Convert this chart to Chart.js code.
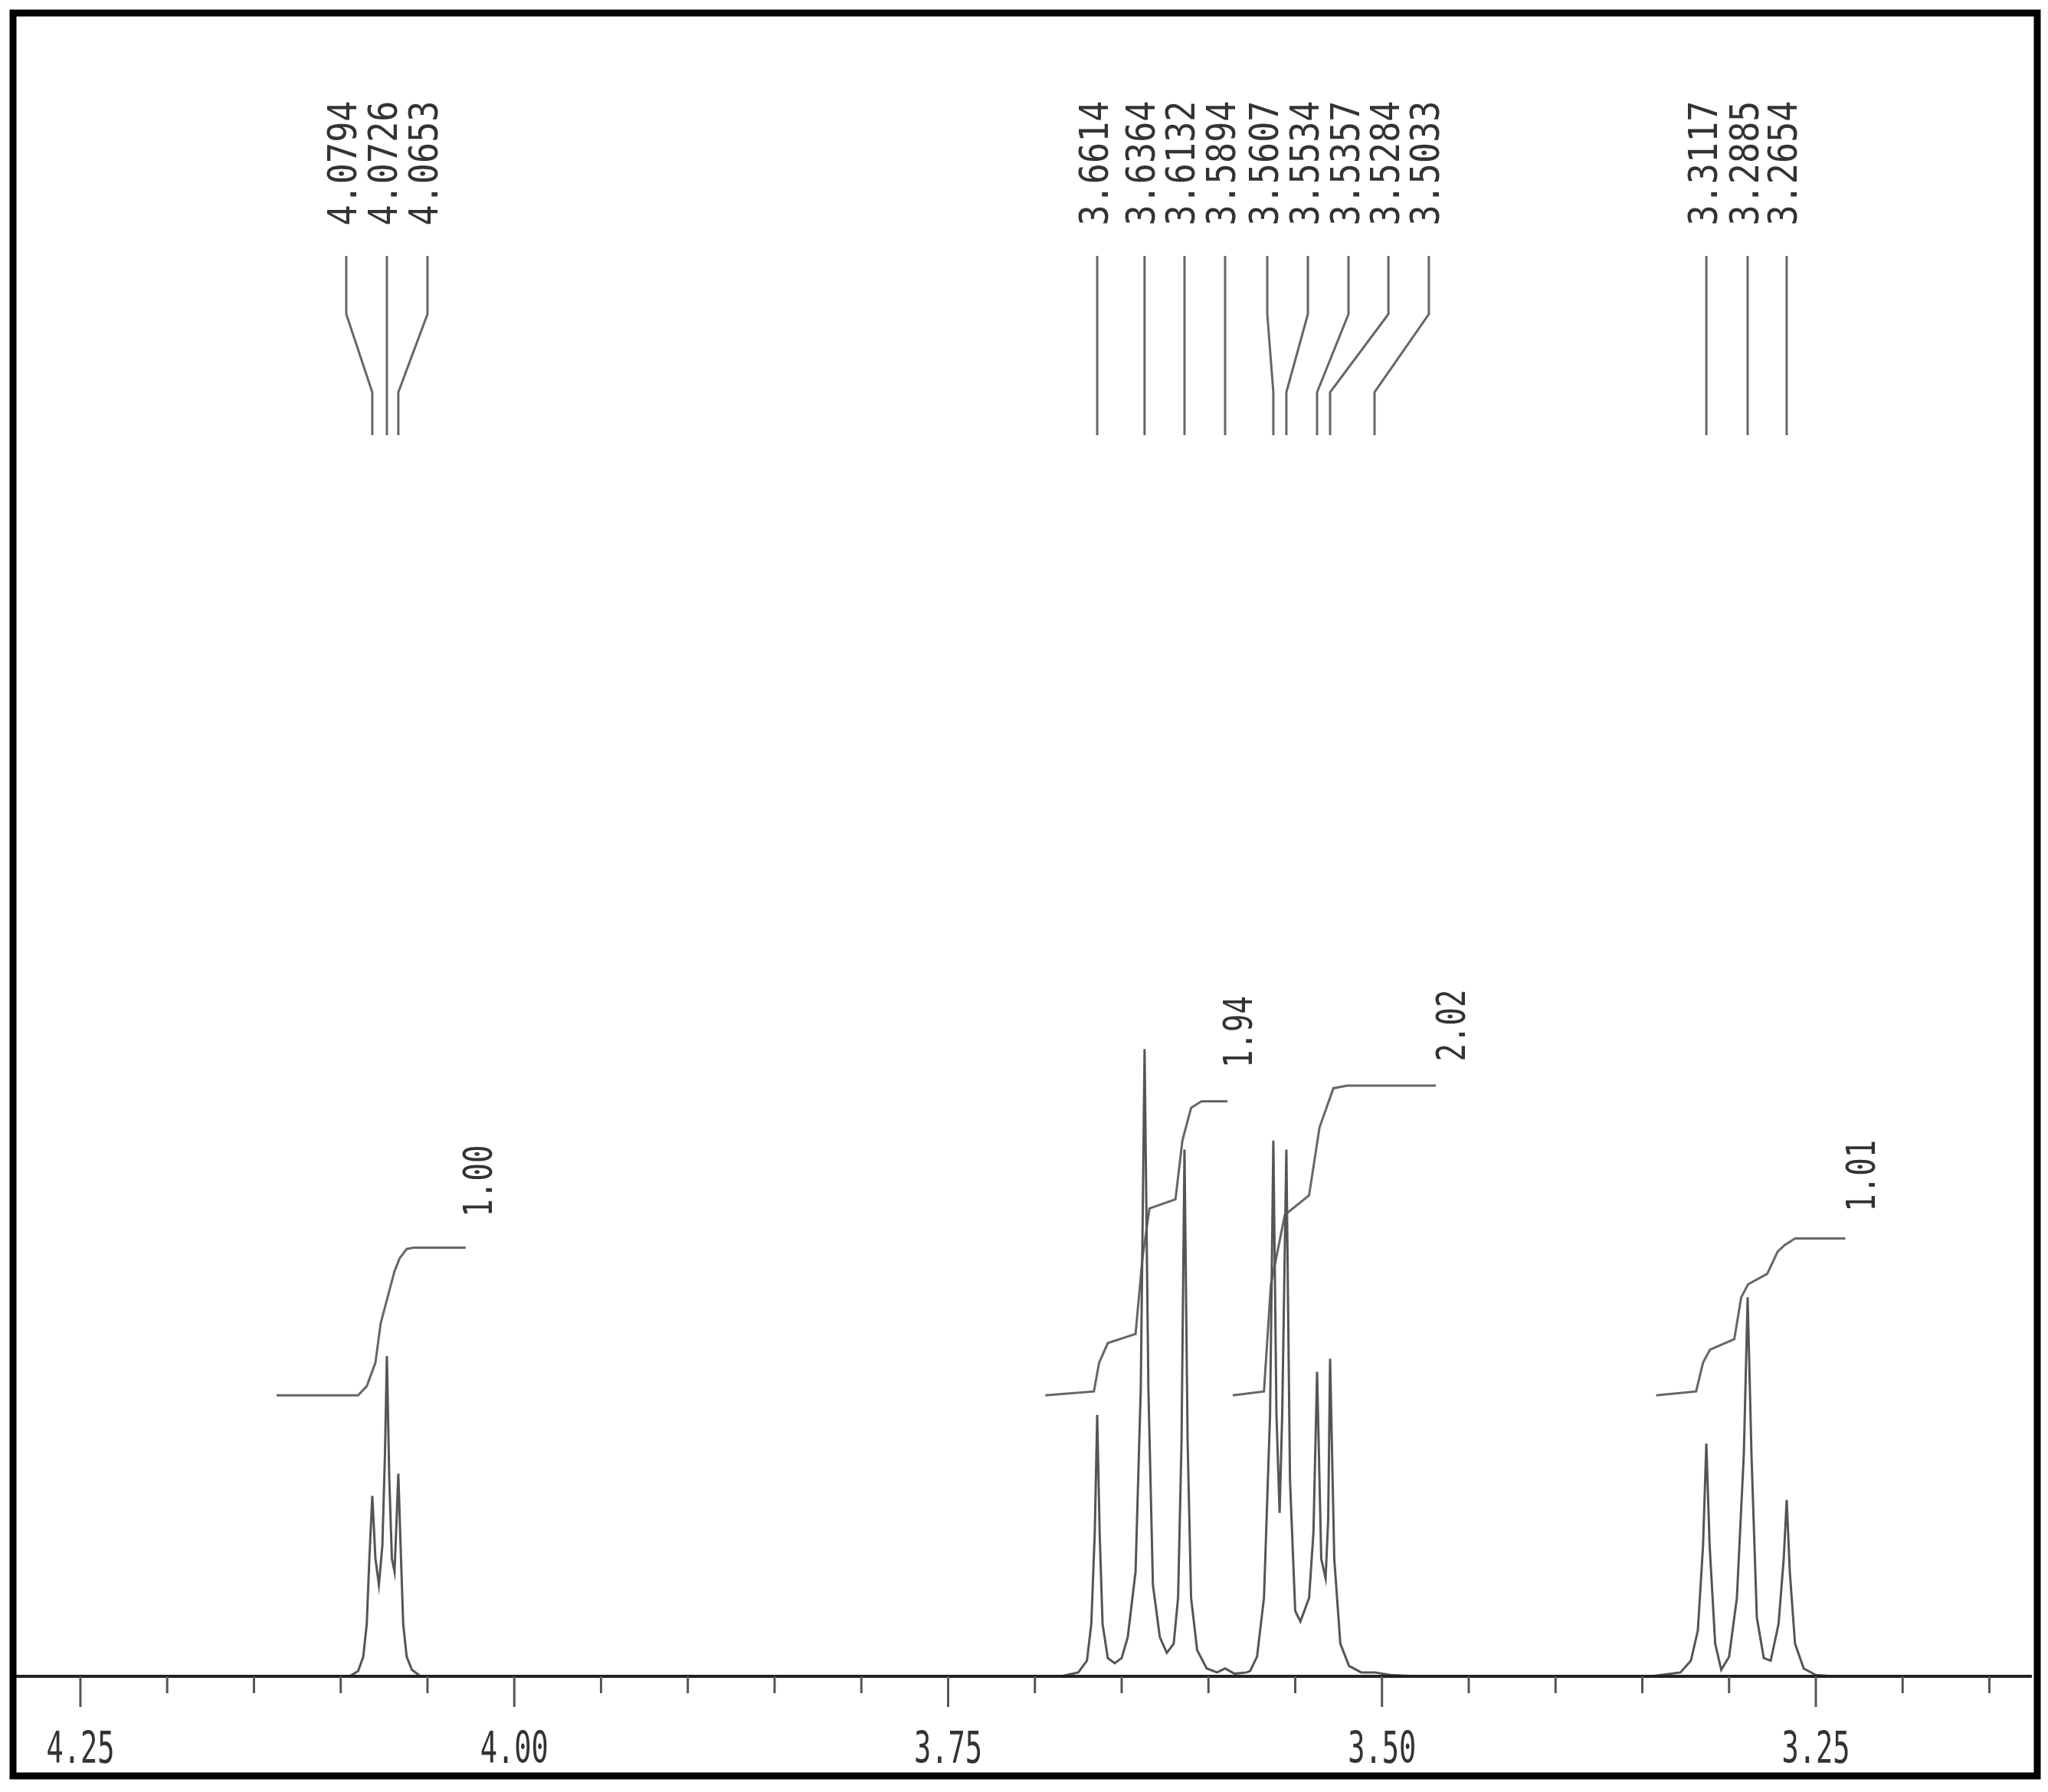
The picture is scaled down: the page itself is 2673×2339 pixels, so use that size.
<!DOCTYPE html>
<html>
<head>
<meta charset="utf-8">
<script src="https://cdn.jsdelivr.net/npm/chart.js@4.4.1/dist/chart.umd.min.js"></script>
<style>
  html, body { margin: 0; padding: 0; background: #fff; }
  canvas { display: block; }
</style>
</head>
<body>
<canvas id="nmr" width="2673" height="2339"></canvas>
<script>
// chemical shift (ppm) / intensity pairs
var spectrum = [
  [4.2875, 0], [4.095, 0], [4.090, 4], [4.087, 15], [4.085, 40], [4.0835, 90], [4.0818, 138],
  [4.0800, 90], [4.0780, 70], [4.0760, 100], [4.0745, 170], [4.0734, 245], [4.0720, 150],
  [4.0705, 90], [4.0690, 80], [4.0678, 120], [4.0668, 155], [4.0655, 100], [4.0640, 40],
  [4.062, 15], [4.059, 5], [4.054, 0],
  [3.685, 0], [3.675, 3], [3.670, 12], [3.6675, 40], [3.6655, 110], [3.6641, 200], [3.6627, 110],
  [3.661, 40], [3.658, 14], [3.654, 10], [3.650, 14], [3.6465, 30], [3.6420, 80], [3.6390, 220],
  [3.6368, 480], [3.6346, 220], [3.6320, 70], [3.628, 30], [3.624, 18], [3.620, 25], [3.6175, 60],
  [3.6155, 180], [3.6138, 403], [3.6120, 180], [3.610, 60], [3.6065, 20], [3.601, 6], [3.595, 3],
  [3.5904, 6], [3.585, 2], [3.578, 3],
  [3.576, 4], [3.572, 15], [3.568, 60], [3.5645, 200], [3.5626, 410], [3.5608, 200], [3.5590, 125],
  [3.5575, 200], [3.5551, 403], [3.5530, 150], [3.5500, 50], [3.5470, 42], [3.5420, 60],
  [3.5395, 110], [3.5374, 233], [3.5350, 90], [3.5325, 75], [3.5310, 120], [3.5299, 243],
  [3.5275, 90], [3.524, 25], [3.519, 8], [3.512, 3], [3.5043, 3], [3.495, 1], [3.48, 0],
  [3.345, 0], [3.328, 3], [3.322, 12], [3.318, 35], [3.315, 100], [3.3131, 178], [3.3112, 100],
  [3.308, 25], [3.3045, 5], [3.300, 15], [3.2955, 60], [3.2915, 170], [3.2893, 290], [3.2871, 170],
  [3.284, 45], [3.280, 14], [3.276, 12], [3.2715, 40], [3.2685, 90], [3.2668, 135], [3.2650, 80],
  [3.262, 25], [3.257, 6], [3.25, 1], [3.24, 0], [3.1255, 0]
];

var integral1 = [[4.137, 215], [4.090, 215], [4.085, 222], [4.080, 240], [4.077, 270], [4.074, 285],
  [4.072, 295], [4.069, 310], [4.066, 320], [4.062, 327], [4.058, 328], [4.028, 328]];
var integral2 = [[3.694, 215], [3.666, 218], [3.663, 240], [3.658, 255], [3.642, 262], [3.638, 320],
  [3.634, 358], [3.619, 365], [3.615, 410], [3.610, 435], [3.604, 440], [3.589, 440]];
var integral3 = [[3.586, 215], [3.568, 218], [3.564, 300], [3.556, 353], [3.542, 368], [3.536, 420],
  [3.528, 450], [3.520, 452], [3.469, 452]];
var integral4 = [[3.342, 215], [3.319, 218], [3.315, 240], [3.311, 250], [3.297, 258], [3.293, 290],
  [3.289, 300], [3.278, 308], [3.272, 325], [3.268, 330], [3.262, 335], [3.233, 335]];

var integralLabels = ['1.00', '1.94', '2.02', '1.01'];
var integralLabelPos = [[4.019, 379], [3.581, 493], [3.458, 498], [3.222, 383]];

var peakLabels = ['4.0794', '4.0726', '4.0653',
  '3.6614', '3.6364', '3.6132', '3.5894',
  '3.5607', '3.5534', '3.5357', '3.5284', '3.5033',
  '3.3117', '3.2885', '3.2654'];
// where each leader line starts (under the label) and where it ends (at the peak)
var labelTop = [4.0968, 4.0734, 4.0500,
  3.6641, 3.6368, 3.6138, 3.5904,
  3.5661, 3.5427, 3.5193, 3.4963, 3.4730,
  3.3131, 3.2893, 3.2668];
var labelBottom = [4.0818, 4.0734, 4.0668,
  3.6641, 3.6368, 3.6138, 3.5904,
  3.5626, 3.5551, 3.5374, 3.5299, 3.5043,
  3.3131, 3.2893, 3.2668];

var majorTicks = [4.25, 4.00, 3.75, 3.50, 3.25];
var tickLabels = ['4.25', '4.00', '3.75', '3.50', '3.25'];

function toXY(arr) {
  return arr.map(function (p) { return { x: p[0], y: p[1] }; });
}

function fitText(ctx, text, cx, cy, w, h, rot) {
  ctx.save();
  ctx.translate(cx, cy);
  if (rot) ctx.rotate(-Math.PI / 2);
  var size = h / 0.73;
  ctx.font = size + 'px "DejaVu Sans Mono"';
  var m = ctx.measureText(text).width;
  ctx.scale(w / m, 1);
  ctx.textAlign = 'center';
  ctx.textBaseline = 'middle';
  ctx.fillText(text, 0, 0);
  ctx.restore();
}

var decorations = {
  id: 'decorations',
  afterDatasetsDraw: function (chart) {
    var ctx = chart.ctx;
    var xs = chart.scales.x, ys = chart.scales.y;
    var base = ys.getPixelForValue(0);

    // axis line and ticks
    ctx.save();
    ctx.strokeStyle = '#222';
    ctx.lineWidth = 4;
    ctx.beginPath();
    ctx.moveTo(chart.chartArea.left, base);
    ctx.lineTo(chart.chartArea.right, base);
    ctx.stroke();
    ctx.strokeStyle = '#555';
    ctx.lineWidth = 3;
    for (var v = 4.25; v >= 3.15; v -= 0.05) {
      var t = Math.round(v * 100) / 100;
      var px = xs.getPixelForValue(t);
      var major = Math.abs((t * 4) - Math.round(t * 4)) < 1e-6;
      ctx.beginPath();
      ctx.moveTo(px, base);
      ctx.lineTo(px, base + (major ? 40 : 22));
      ctx.stroke();
    }
    ctx.fillStyle = '#333';
    majorTicks.forEach(function (t, i) {
      fitText(ctx, tickLabels[i], xs.getPixelForValue(t), 2286, 89, 41, false);
    });

    // peak labels and leader lines
    ctx.strokeStyle = '#666';
    ctx.lineWidth = 3;
    peakLabels.forEach(function (lab, i) {
      var xt = xs.getPixelForValue(labelTop[i]);
      var xb = xs.getPixelForValue(labelBottom[i]);
      ctx.beginPath();
      ctx.moveTo(xt, 334);
      ctx.lineTo(xt, 410);
      ctx.lineTo(xb, 512);
      ctx.lineTo(xb, 568);
      ctx.stroke();
      ctx.fillStyle = '#333';
      fitText(ctx, lab, xt, 213, 163, 38, true);
    });

    // integral values
    integralLabels.forEach(function (lab, i) {
      var p = integralLabelPos[i];
      ctx.fillStyle = '#333';
      fitText(ctx, lab, xs.getPixelForValue(p[0]), ys.getPixelForValue(p[1]), 94, 38, true);
    });

    // frame
    ctx.strokeStyle = '#000';
    ctx.lineWidth = 9;
    ctx.strokeRect(17, 17, 2642, 2301);
    ctx.restore();
  }
};

function lineSet(arr, color, width) {
  return {
    data: toXY(arr),
    borderColor: color,
    borderWidth: width,
    pointRadius: 0,
    fill: false,
    tension: 0
  };
}

new Chart(document.getElementById('nmr').getContext('2d'), {
  type: 'line',
  data: {
    datasets: [
      lineSet(spectrum, '#555', 3),
      lineSet(integral1, '#666', 3),
      lineSet(integral2, '#666', 3),
      lineSet(integral3, '#666', 3),
      lineSet(integral4, '#666', 3)
    ]
  },
  options: {
    responsive: false,
    devicePixelRatio: 1,
    animation: false,
    layout: { padding: { left: 20, right: 21, top: 20, bottom: 151 } },
    plugins: { legend: { display: false }, tooltip: { enabled: false } },
    scales: {
      x: { type: 'linear', reverse: true, min: 3.1255, max: 4.2875, display: false },
      y: { min: 0, max: 1271, display: false }
    }
  },
  plugins: [decorations]
});
</script>
</body>
</html>
